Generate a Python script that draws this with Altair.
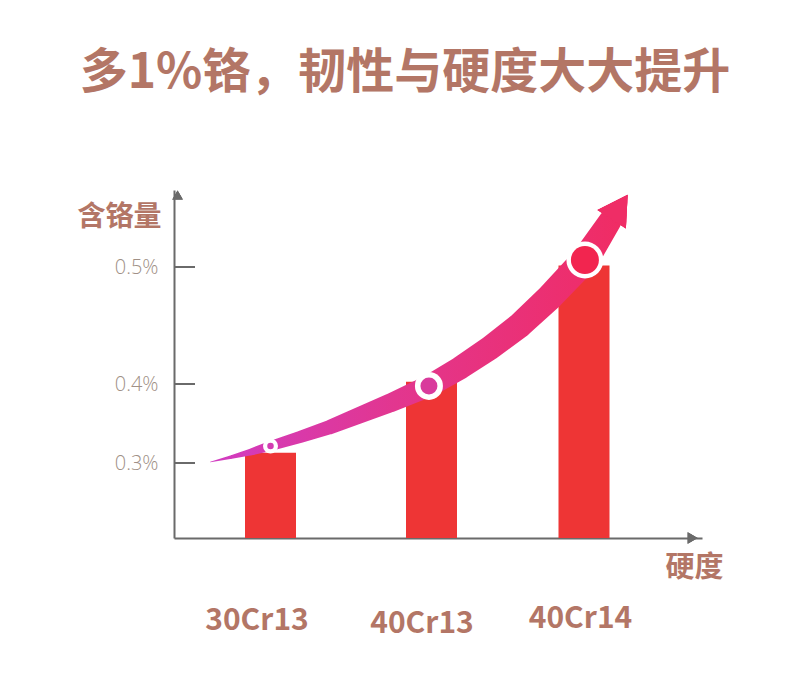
import altair as alt
import pandas as pd

# ---- data ----
grades = ["30Cr13", "40Cr13", "40Cr14"]
grade_pos = [1, 2, 3]
chromium = [0.313, 0.402, 0.502]          # 含铬量 (%)
y_ticks = [0.3, 0.4, 0.5]
tick_labels = ["0.3%", "0.4%", "0.5%"]

# decorative rising arrow (trend), in chart units
trend_x = [0.352, 0.580, 0.788, 1.000, 1.183, 1.370, 1.556, 1.742, 1.984,
           2.187, 2.384, 2.580, 2.777, 3.008, 3.229]
trend_y = [0.3013, 0.3076, 0.3139, 0.3215, 0.3329, 0.3456, 0.3608, 0.3759, 0.3975,
           0.4137, 0.4308, 0.4504, 0.4744, 0.5091, 0.5597]
head_x, head_y = 3.314, 0.5779
marker_x = [1.0, 1.984, 3.008]
marker_y = [0.3215, 0.3975, 0.5091]
marker_id = [0, 1, 2]

BROWN = "#b37666"
AXIS = "#6a6a6a"

bars_df = pd.DataFrame({"grade": grades, "pos": grade_pos, "cr": chromium})
ticks_df = pd.DataFrame({"v": y_ticks, "label": tick_labels})
trend_df = pd.DataFrame({"x": trend_x, "y": trend_y, "i": list(range(len(trend_x)))})
mark_df = pd.DataFrame({"x": marker_x, "y": marker_y, "m": marker_id})

xscale = alt.Scale(domain=[0, 1, 2, 3, 4], range=[0, 96.5, 257.5, 410, 528], nice=False, zero=False)
yscale = alt.Scale(domain=[0.25, 0.3, 0.4, 0.5, 0.6], range=[348, 273, 194, 77, 0], nice=False, zero=False)

label_expr = "{" + ",".join(f"'{p}':'{g}'" for p, g in zip(grade_pos, grades)) + "}[datum.value]"
ylabel_expr = "{" + ",".join(f"'{v}':'{l}'" for v, l in zip(y_ticks, tick_labels)) + "}[datum.value]"

x_axis = alt.Axis(
    values=grade_pos, labelExpr=label_expr, ticks=False, grid=False,
    domainColor=AXIS, domainWidth=2,
    labelFont="Noto Sans CJK SC", labelFontWeight="bold", labelFontSize=30,
    labelColor=BROWN,
    labelPadding={"condition": [{"test": "datum.value == 1", "value": 67},
                                {"test": "datum.value == 2", "value": 70}], "value": 65},
    labelOffset={"condition": [{"test": "datum.value == 1", "value": -14},
                               {"test": "datum.value == 2", "value": -10}], "value": -4},
    title="硬度", titleFont="Noto Sans CJK SC", titleFontWeight="bold", titleFontSize=29,
    titleColor=BROWN, titleAngle=0, titleX=520, titleY=29, titleAlign="center",
    titleBaseline="middle",
)
y_axis = alt.Axis(
    values=y_ticks, labelExpr=ylabel_expr, ticks=False, tickSize=0, grid=False,
    domainColor=AXIS, domainWidth=2,
    labelFont="Open Sans", labelFontWeight=300, labelFontSize=20,
    labelColor="#a09086", labelPadding=16,
    title="含铬量", titleFont="Noto Sans CJK SC", titleFontWeight="bold", titleFontSize=28,
    titleColor=BROWN, titleAngle=0, titleX=-55, titleY=27, titleAlign="center",
    titleBaseline="middle",
)

bars = alt.Chart(bars_df).mark_bar(size=51, color="#ee3535").encode(
    x=alt.X("pos:Q", scale=xscale, axis=x_axis),
    y=alt.Y("cr:Q", scale=yscale, axis=y_axis),
    y2=alt.datum(0.25),
)

tick_rules = alt.Chart(ticks_df).mark_rule(color=AXIS, strokeWidth=2).encode(
    y=alt.Y("v:Q", scale=yscale),
    x=alt.value(0),
    x2=alt.value(21),
)

grad = alt.Gradient(
    gradient="linear",
    stops=[alt.GradientStop(color="#d13cc2", offset=0),
           alt.GradientStop(color="#e2368f", offset=0.45),
           alt.GradientStop(color="#f02c64", offset=1)],
    x1=0, x2=1, y1=0, y2=0,
)
trail = alt.Chart(trend_df).mark_trail(color=grad).encode(
    x=alt.X("x:Q", scale=xscale),
    y=alt.Y("y:Q", scale=yscale),
    order="i:Q",
    size=alt.Size("x:Q", scale=alt.Scale(domain=[0.352, 1, 2, 3, 3.229], range=[0.5, 10, 22, 28, 23]),
                  legend=None),
)

head = alt.Chart(bars_df).mark_point(
    shape="triangle-up", filled=True, size=1150, angle=33, color="#ef2d66", opacity=1
).encode(x=alt.datum(head_x), y=alt.datum(head_y))

outer = alt.Chart(mark_df).mark_point(filled=True, shape="circle", color="white", opacity=1).encode(
    x=alt.X("x:Q", scale=xscale), y=alt.Y("y:Q", scale=yscale),
    size=alt.Size("m:Q", scale=alt.Scale(domain=marker_id, range=[225, 784, 1369], zero=False, nice=False),
                  legend=None),
)
inner = alt.Chart(mark_df).mark_point(filled=True, shape="circle", opacity=1).encode(
    x=alt.X("x:Q", scale=xscale), y=alt.Y("y:Q", scale=yscale),
    size=alt.Size("m:Q", scale=alt.Scale(domain=marker_id, range=[42, 289, 784], zero=False, nice=False),
                  legend=None),
    color=alt.Color("m:N", scale=alt.Scale(domain=marker_id, range=["#d33cb2", "#d93a9c", "#f2254f"]),
                    legend=None),
)

y_arrow = alt.Chart(bars_df).mark_point(
    shape="triangle-up", filled=True, size=110, color=AXIS, opacity=1, yOffset=5
).encode(x=alt.datum(0), y=alt.datum(0.6))
x_arrow = alt.Chart(bars_df).mark_point(
    shape="triangle-right", filled=True, size=130, color=AXIS, opacity=1, xOffset=-5
).encode(x=alt.datum(4), y=alt.datum(0.25))

chart = alt.layer(bars, tick_rules, trail, head, outer, inner, y_arrow, x_arrow).resolve_scale(
    size="independent", color="independent"
).properties(
    width=528, height=348,
    background="white",
    autosize=alt.AutoSizeParams(type="none"),
    padding={"left": 166, "top": 182, "right": 80, "bottom": 120},
    title=alt.Title("多1%铬，韧性与硬度大大提升", font="Noto Sans CJK SC", fontWeight="bold",
                    fontSize=48, color=BROWN, anchor="middle", frame="group", dx=-33,
                    offset=68, baseline="middle"),
).configure_view(stroke=None, strokeWidth=0)

chart.save("out.html", embed_options={"renderer": "svg", "actions": False})
